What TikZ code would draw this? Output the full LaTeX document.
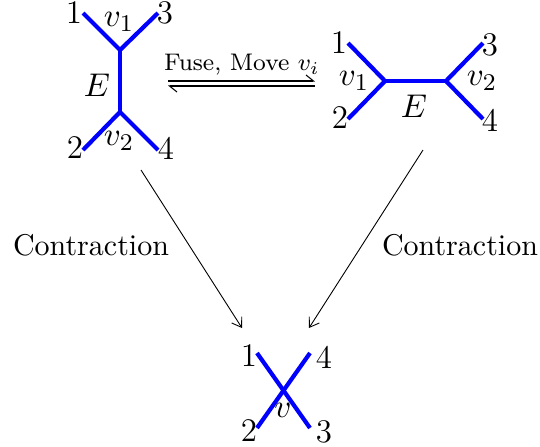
\documentclass[tikz,border=0pt]{standalone}
\usepackage{amsmath,amssymb}
\usepackage{xcolor}
\usepackage{tikz}
\usetikzlibrary{arrows.meta,positioning,calc}

\begin{document}
\begin{tikzpicture}[x=0.3333pt,y=-0.3333pt,
  edge/.style={line width=1.4pt,blue},
  flow/.style={line width=0.3pt,-{Straight Barb[length=3pt,width=4pt]}},
  fuse/.style={line width=0.35pt,-{Straight Barb[harpoon,length=2.5pt,width=4pt]}},
  lbl/.style={inner sep=0pt},
  tag/.style={inner sep=0pt,font=\fontsize{11}{13}\selectfont}
]
\useasboundingbox (0,0) rectangle (540,446);
%--- diagram 1: edge E upright ---
\begin{scope}
  \coordinate (a1) at (120,50);
  \coordinate (a2) at (120,112);
  \coordinate (a1l) at (83,13);
  \coordinate (a1r) at (158,13);
  \coordinate (a2l) at (83,150);
  \coordinate (a2r) at (158,150);
  \draw[edge] (a1l) -- (a1) -- (a1r);
  \draw[edge] (a1) -- (a2);
  \draw[edge] (a2l) -- (a2) -- (a2r);
  \node[tag] (a1n) at (74,13) {1};
  \node[tag] (a3n) at (165,13) {3};
  \node[tag] (a2n) at (75,148) {2};
  \node[tag] (a4n) at (166,148) {4};
  \node[tag] (av1) at (119,22) {$v_1$};
  \node[tag] (av2) at (119,141) {$v_2$};
  \node[tag] (aE) at (97,85) {$E$};
\end{scope}
%--- fuse / move ---
\coordinate (fa) at (168,81);
\coordinate (fb) at (315,81);
\coordinate (fc) at (168,86);
\coordinate (fd) at (315,86);
\draw[fuse] (fa) -- (fb);
\draw[fuse] (fd) -- (fc);
\node[font=\footnotesize,lbl] (fuse) at (242,65) {Fuse, Move $v_i$};
%--- diagram 2: edge E lying ---
\begin{scope}
  \coordinate (b1) at (385,81);
  \coordinate (b2) at (446,81);
  \coordinate (b1u) at (348,43);
  \coordinate (b1d) at (348,119);
  \coordinate (b2u) at (483,43);
  \coordinate (b2d) at (483,119);
  \draw[edge] (b1u) -- (b1) -- (b1d);
  \draw[edge] (b1) -- (b2);
  \draw[edge] (b2u) -- (b2) -- (b2d);
  \node[tag] (b1n) at (339,43) {1};
  \node[tag] (b2n) at (340,118) {2};
  \node[tag] (b3n) at (490,45) {3};
  \node[tag] (b4n) at (490,120) {4};
  \node[tag] (bv1) at (354,81) {$v_1$};
  \node[tag] (bv2) at (482,81) {$v_2$};
  \node[tag] (bE) at (414,106) {$E$};
\end{scope}
%--- diagram 3: contracted vertex ---
\begin{scope}
  \coordinate (c) at (283,392);
  \coordinate (c1) at (257,353);
  \coordinate (c4) at (310,353);
  \coordinate (c2) at (257,428);
  \coordinate (c3) at (310,428);
  \draw[edge] (c1) -- (c3);
  \draw[edge] (c4) -- (c2);
  \node[tag] (c1n) at (249,356) {1};
  \node[tag] (c4n) at (324,357) {4};
  \node[tag] (c2n) at (249,431) {2};
  \node[tag] (c3n) at (324,432) {3};
  \node[tag] (cv) at (283,410) {$v$};
\end{scope}
%--- contraction arrows ---
\coordinate (la) at (141,170);
\coordinate (lb) at (242,328);
\coordinate (ra) at (423,150);
\coordinate (rb) at (309,328);
\draw[flow] (la) -- (lb);
\draw[flow] (ra) -- (rb);
\node[lbl] (conl) at (91,245) {Contraction};
\node[lbl] (conr) at (460,245) {Contraction};
\end{tikzpicture}
\end{document}
